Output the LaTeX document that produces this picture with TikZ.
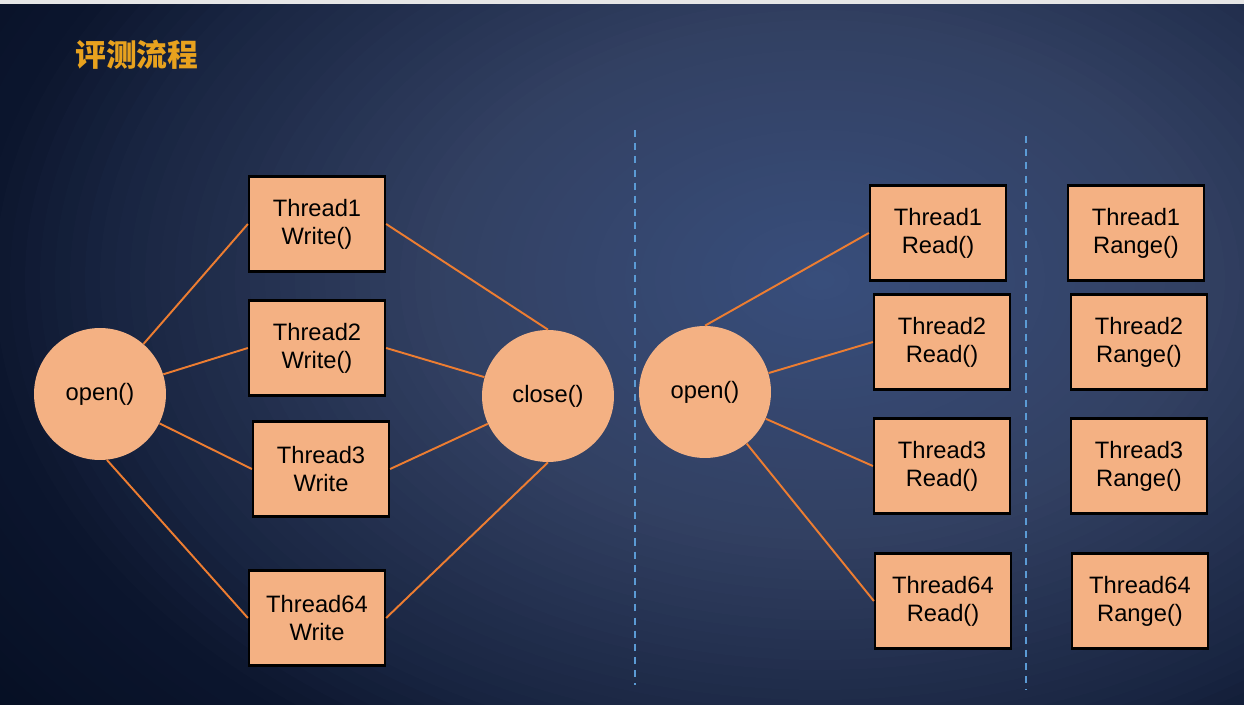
\documentclass[tikz,border=0pt]{standalone}
\usepackage{fontspec}
\setmainfont{Liberation Sans}
\newfontfamily\cjk{Noto Sans CJK SC}
\usepackage{xcolor}
\usepackage{tikz}
\definecolor{mypeach}{RGB}{244,177,131}
\definecolor{myorange}{RGB}{237,125,49}
\definecolor{myblue}{RGB}{91,155,213}
\definecolor{mygold}{RGB}{232,162,30}
\definecolor{mygray}{RGB}{230,230,230}
\definecolor{bgcenter}{RGB}{56,78,124}
\definecolor{bgmid}{RGB}{50,64,98}
\definecolor{bglow}{RGB}{24,36,64}
\definecolor{bgdark}{RGB}{12,22,46}
\definecolor{bgedge}{RGB}{6,15,36}
\tikzset{
  thread/.style={rectangle, draw=black, fill=mypeach, line width=1.3pt, minimum width=2.72cm,
    minimum height=1.9cm, align=center, inner sep=0pt, font=\fontsize{13.5}{16}\selectfont},
  call/.style={circle, fill=mypeach, minimum size=2.64cm, inner sep=0pt, font=\fontsize{13.5}{16}\selectfont},
  link/.style={color=myorange, line width=1.1pt},
  split/.style={color=myblue, line width=1.1pt, dash pattern=on 4pt off 3.5pt}
}

\begin{document}
\begin{tikzpicture}[x=0.02cm, y=-0.02cm]
\useasboundingbox (0,0) rectangle (1244,705);
%--- slide background, stepped glow ---
\begin{scope}
  \clip (0,0) rectangle (1244,705);
  \fill[bgedge] (0,0) rectangle (1244,705);
  \begin{scope}[shift={(820,280)}, xscale=1.5]
    \foreach \r in {700,690,...,560}{
      \pgfmathsetmacro{\p}{(700-\r)/140*100}
      \fill[bgdark!\p!bgedge] (0,0) circle [radius=\r];
    }
    \foreach \r in {550,540,...,480}{
      \pgfmathsetmacro{\p}{(560-\r)/80*100}
      \fill[bglow!\p!bgdark] (0,0) circle [radius=\r];
    }
    \foreach \r in {470,460,...,260}{
      \pgfmathsetmacro{\p}{(480-\r)/220*100}
      \fill[bgmid!\p!bglow] (0,0) circle [radius=\r];
    }
    \foreach \r in {250,240,...,10}{
      \pgfmathsetmacro{\p}{(260-\r)/260*100}
      \fill[bgcenter!\p!bgmid] (0,0) circle [radius=\r];
    }
  \end{scope}
\end{scope}
\fill[mygray] (0,0) rectangle (1244,4);
\node[font=\cjk\bfseries\fontsize{17.5}{20}\selectfont, text=mygold, anchor=west, inner sep=0pt] (title) at (75,55) {评测流程};

%--- WRITE phase ---
\node[call]   (open1) at (100,394)   {open()};
\node[thread] (t1w)   at (317,224)   {Thread1\\Write()};
\node[thread] (t2w)   at (317,348)   {Thread2\\Write()};
\node[thread] (t3w)   at (321,469)   {Thread3\\Write};
\node[thread] (t64w)  at (317,618)   {Thread64\\Write};
\node[call]   (close) at (548,396)   {close()};
\draw[link] (open1)     -- (t1w.west);
\draw[link] (open1)     -- (t2w.west);
\draw[link] (open1)     -- (t3w.west);
\draw[link] (open1.-84) -- (t64w.west);
\draw[link] (t1w.east)  -- (close.north);
\draw[link] (t2w.east)  -- (close);
\draw[link] (t3w.east)  -- (close);
\draw[link] (t64w.east) -- (close.south);

%--- separators ---
\coordinate (sepatop) at (635,130);
\coordinate (sepabot) at (635,685);
\coordinate (sepbtop) at (1026,136);
\coordinate (sepbbot) at (1026,690);
\draw[split] (sepatop) -- (sepabot);
\draw[split] (sepbtop) -- (sepbbot);

%--- READ phase ---
\node[call]   (open2) at (705,392)   {open()};
\node[thread] (t1r)   at (938,233)   {Thread1\\Read()};
\node[thread] (t2r)   at (942,342)   {Thread2\\Read()};
\node[thread] (t3r)   at (942,466)   {Thread3\\Read()};
\node[thread] (t64r)  at (943,601)   {Thread64\\Read()};
\draw[link] (open2.north) -- (t1r.west);
\draw[link] (open2) -- (t2r.west);
\draw[link] (open2) -- (t3r.west);
\draw[link] (open2) -- (t64r.west);

%--- RANGE phase ---
\node[thread] (t1g)   at (1136,233)  {Thread1\\Range()};
\node[thread] (t2g)   at (1139,342)  {Thread2\\Range()};
\node[thread] (t3g)   at (1139,466)  {Thread3\\Range()};
\node[thread] (t64g)  at (1140,601)  {Thread64\\Range()};
\end{tikzpicture}
\end{document}
